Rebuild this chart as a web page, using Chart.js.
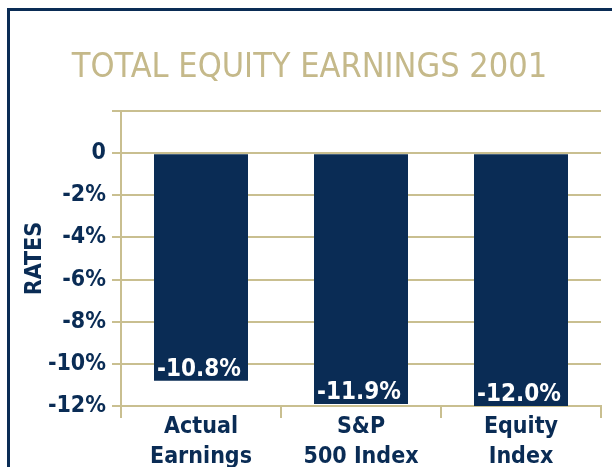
<!DOCTYPE html>
<html>
<head>
<meta charset="utf-8">
<script src="https://cdn.jsdelivr.net/npm/chart.js@4"></script>
<style>
  html, body { margin: 0; padding: 0; background: #ffffff; overflow: hidden; }
  #wrap { position: relative; width: 612px; height: 480px; }
  #frame { position: absolute; left: 7px; top: 8px; width: 700px; height: 600px;
           border-left: 3px solid #0a2c55; border-top: 3px solid #0a2c55; pointer-events: none; }
</style>
</head>
<body>
<div id="wrap">
  <canvas id="c" width="612" height="480"></canvas>
  <div id="frame"></div>
</div>
<script>
const categories = [["Actual", "Earnings"], ["S&P", "500 Index"], ["Equity", "Index"]];
const rates = [-10.8, -11.9, -12.0];
const tickValues = [2, 0, -2, -4, -6, -8, -10, -12];
const chartTitle = "TOTAL EQUITY EARNINGS 2001";
const axisTitle = "RATES";

const NAVY = "#0a2c55";
const GOLD = "#c9bf90";
const TITLE_GOLD = "#c5b98a";
const NARROW = '"DejaVu Sans Condensed", "Liberation Sans", sans-serif';

const barLabels = {
  id: 'barLabels',
  afterDatasetsDraw(chart) {
    const ctx = chart.ctx;
    const meta = chart.getDatasetMeta(0);
    ctx.save();
    ctx.fillStyle = '#ffffff';
    ctx.font = 'bold 24px ' + NARROW;
    ctx.textAlign = 'center';
    ctx.textBaseline = 'alphabetic';
    meta.data.forEach((el, i) => {
      const v = chart.data.datasets[0].data[i];
      ctx.fillText(v.toFixed(1) + '%', el.x - 2, el.y - 5);
    });
    ctx.restore();
  }
};

new Chart(document.getElementById('c'), {
  type: 'bar',
  data: {
    labels: categories,
    datasets: [{
      data: rates,
      backgroundColor: NAVY,
      borderWidth: 0,
      categoryPercentage: 1.0,
      barPercentage: 0.5875
    }]
  },
  options: {
    responsive: false,
    animation: false,
    devicePixelRatio: 1,
    layout: { padding: { top: 20, left: 18, right: 11, bottom: 8 } },
    plugins: {
      legend: { display: false },
      tooltip: { enabled: false },
      title: {
        display: true,
        text: chartTitle,
        color: TITLE_GOLD,
        font: { family: NARROW, size: 34, weight: 'normal', lineHeight: 1.2 },
        padding: { top: 27.5, bottom: 22.7 }
      }
    },
    scales: {
      x: {
        offset: true,
        afterFit(scale) { scale.height = 66; },
        grid: { display: true, drawOnChartArea: false, drawTicks: true, tickLength: 12, color: GOLD, lineWidth: 2 },
        border: { display: true, color: GOLD, width: 2 },
        ticks: {
          color: NAVY,
          padding: -6,
          font: { family: NARROW, size: 23, weight: 'bold', lineHeight: '30px' }
        }
      },
      y: {
        min: -12,
        max: 2,
        afterBuildTicks(scale) { scale.ticks = tickValues.map(v => ({ value: v })); },
        afterFit(scale) { scale.width = 103; },
        grid: { display: true, drawTicks: true, tickLength: 9, color: GOLD, lineWidth: 2 },
        border: { display: true, color: GOLD, width: 2 },
        ticks: {
          color: NAVY,
          padding: 6,
          font: { family: NARROW, size: 23, weight: 'bold' },
          callback: (v) => v === 2 ? '' : (v === 0 ? '0' : v + '%')
        },
        title: {
          display: true,
          text: axisTitle,
          color: NAVY,
          font: { family: NARROW, size: 23, weight: 'bold', lineHeight: 1.2 },
          padding: { top: 3, bottom: 0 }
        }
      }
    }
  },
  plugins: [barLabels]
});
</script>
</body>
</html>
